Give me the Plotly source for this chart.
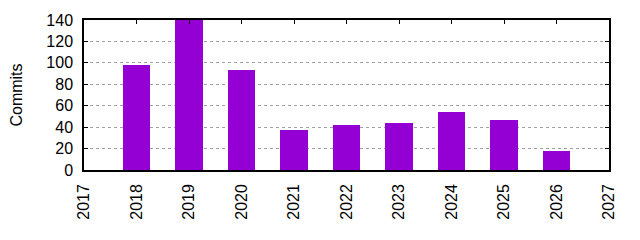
import plotly.graph_objects as go

years = [2018, 2019, 2020, 2021, 2022, 2023, 2024, 2025, 2026]
commits = [98, 140, 93, 37, 42, 44, 54, 47, 18]
x_ticks = list(range(2017, 2028))
y_ticks = [0, 20, 40, 60, 80, 100, 120, 140]

FONT = "Liberation Sans, Arial, sans-serif"

fig = go.Figure()
fig.add_trace(go.Bar(x=years, y=commits, width=0.53, marker=dict(color="#9400D3", line=dict(width=0))))
# invisible trace for top axis ticks
fig.add_trace(go.Scatter(x=[2017, 2027], y=[0, 0], xaxis="x2", mode="markers",
                         marker=dict(opacity=0), hoverinfo="skip", showlegend=False))

fig.update_layout(
    width=640, height=240,
    margin=dict(l=84, r=31, t=20, b=70, pad=0),
    paper_bgcolor="white", plot_bgcolor="white",
    showlegend=False,
    font=dict(family=FONT, size=16, color="black"),
    xaxis=dict(range=[2017, 2027], tickmode="array", tickvals=x_ticks,
               ticktext=[str(v) for v in x_ticks], tickangle=-90,
               showline=True, linecolor="black", linewidth=1.5, mirror=True,
               ticks="outside", ticklen=6, tickcolor="rgba(0,0,0,0)",
               showgrid=False, zeroline=False,
               tickfont=dict(family=FONT, size=16)),
    xaxis2=dict(range=[2017, 2027], overlaying="x", side="top", tickmode="array",
                tickvals=x_ticks, ticks="inside", ticklen=4, tickcolor="black",
                tickwidth=1, showticklabels=False, showgrid=False, zeroline=False,
                showline=False),
    yaxis=dict(range=[0, 140], tickmode="array", tickvals=y_ticks,
               showline=True, linecolor="black", linewidth=1.5, mirror="ticks",
               ticks="inside", ticklen=4, tickcolor="black", tickwidth=1,
               showgrid=True, gridcolor="#a0a0a0", griddash="3px,3px", gridwidth=1,
               zeroline=False, ticklabelstandoff=6,
               tickfont=dict(family=FONT, size=16),
               title=dict(text="Commits", standoff=20, font=dict(family=FONT, size=16))),
    bargap=0,
)

fig.write_html("out.html")
